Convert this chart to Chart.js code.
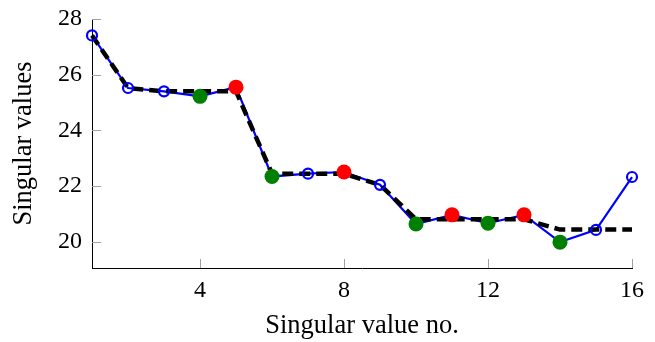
<!DOCTYPE html>
<html>
<head>
<meta charset="utf-8">
<script src="https://cdn.jsdelivr.net/npm/chart.js@4.4.1/dist/chart.umd.min.js"></script>
<style>
  html, body { margin: 0; padding: 0; background: #ffffff; }
  #wrap { width: 655px; height: 342px; }
</style>
</head>
<body>
<div id="wrap"><canvas id="c" width="655" height="342"></canvas></div>
<script>
// ---- data ----
const indices        = [1, 2, 3, 4, 5, 6, 7, 8, 9, 10, 11, 12, 13, 14, 15, 16];
const singularValues = [27.41, 25.52, 25.40, 25.22, 25.55, 22.34, 22.44, 22.50, 22.04, 20.63, 20.96, 20.66, 20.96, 19.98, 20.42, 22.32];
const fittedValues   = [27.41, 25.52, 25.40, 25.40, 25.40, 22.44, 22.44, 22.44, 22.04, 20.80, 20.80, 20.80, 20.80, 20.43, 20.43, 20.43];
const greenIndices   = [4, 6, 10, 12, 14];
const redIndices     = [5, 8, 11, 13];
const xTickValues    = [4, 8, 12, 16];
const yTickValues    = [20, 22, 24, 26, 28];

const pts = (vals) => indices.map((x, i) => ({ x: x, y: vals[i] }));
const subset = (idxs) => idxs.map(k => ({ x: k, y: singularValues[indices.indexOf(k)] }));
const openIdx = indices.filter(k => !greenIndices.includes(k) && !redIndices.includes(k));

const FONT = "'Liberation Serif', 'Times New Roman', serif";

const inwardTicks = {
  id: 'inwardTicks',
  beforeDatasetsDraw(chart) {
    const { ctx, chartArea } = chart;
    const xs = chart.scales.x, ys = chart.scales.y;
    ctx.save();
    ctx.strokeStyle = '#a0a0a0';
    ctx.lineWidth = 1;
    ctx.beginPath();
    xs.ticks.forEach(t => {
      const px = Math.round(xs.getPixelForValue(t.value)) + 0.5;
      ctx.moveTo(px, chartArea.bottom);
      ctx.lineTo(px, chartArea.bottom - 9);
    });
    ys.ticks.forEach(t => {
      const py = Math.round(ys.getPixelForValue(t.value)) + 0.5;
      ctx.moveTo(chartArea.left, py);
      ctx.lineTo(chartArea.left + 9, py);
    });
    ctx.stroke();
    ctx.restore();
  }
};

new Chart(document.getElementById('c'), {
  type: 'line',
  data: {
    datasets: [
      { label: 'line', data: pts(singularValues), borderColor: '#0000ff', borderWidth: 2.2,
        pointRadius: 0, fill: false, tension: 0, order: 4, clip: false },
      { label: 'fit', data: pts(fittedValues), borderColor: '#000000', borderWidth: 4.5,
        borderDash: [11, 6], pointRadius: 0, fill: false, tension: 0, order: 3, clip: false },
      { label: 'open', data: subset(openIdx), showLine: false, pointRadius: 5,
        pointBorderWidth: 2.2, pointBorderColor: '#0000ff', pointBackgroundColor: 'rgba(0,0,0,0)', order: 2, clip: false },
      { label: 'green', data: subset(greenIndices), showLine: false, pointRadius: 7.5,
        pointBorderWidth: 0, pointBackgroundColor: '#008000', pointBorderColor: '#008000', order: 1, clip: false },
      { label: 'red', data: subset(redIndices), showLine: false, pointRadius: 7.5,
        pointBorderWidth: 0, pointBackgroundColor: '#ff0000', pointBorderColor: '#ff0000', order: 0, clip: false }
    ]
  },
  options: {
    responsive: false,
    animation: false,
    events: [],
    layout: { padding: { left: 4, right: 23, top: 19, bottom: 0 } },
    plugins: { legend: { display: false }, tooltip: { enabled: false } },
    scales: {
      x: {
        type: 'linear', min: 1, max: 16,
        afterBuildTicks: (s) => { s.ticks = xTickValues.map(v => ({ value: v })); },
        afterFit: (s) => { s.height = 74; s.paddingLeft = 0; s.paddingRight = 0; },
        grid: { drawOnChartArea: false, drawTicks: false },
        border: { display: true, color: '#000000', width: 1 },
        ticks: { color: '#000000', font: { family: FONT, size: 24 }, padding: 8, maxRotation: 0 },
        title: { display: true, text: 'Singular value no.', color: '#000000',
                 font: { family: FONT, size: 26.5 }, padding: { top: 1, bottom: 0 } }
      },
      y: {
        type: 'linear', min: 19.05, max: 28,
        afterBuildTicks: (s) => { s.ticks = yTickValues.map(v => ({ value: v })); },
        afterFit: (s) => { s.width = 88; s.paddingTop = 0; s.paddingBottom = 0; },
        grid: { drawOnChartArea: false, drawTicks: false },
        border: { display: true, color: '#000000', width: 1 },
        ticks: { color: '#000000', font: { family: FONT, size: 24 }, padding: 10 },
        title: { display: true, text: 'Singular values', color: '#000000',
                 font: { family: FONT, size: 26.5 }, padding: { top: 4, bottom: 4 } }
      }
    }
  },
  plugins: [inwardTicks]
});
</script>
</body>
</html>
